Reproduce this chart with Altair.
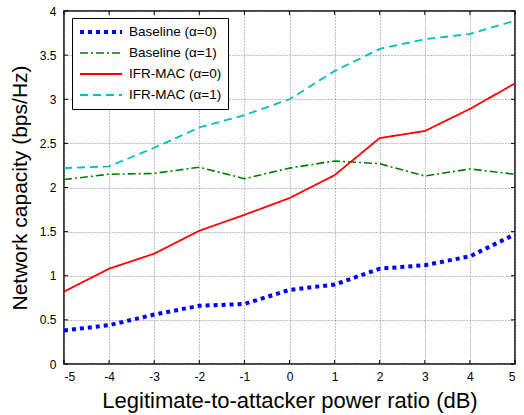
import altair as alt
import pandas as pd

x_vals = [-5, -4, -3, -2, -1, 0, 1, 2, 3, 4, 5]
baseline_a0 = [0.38, 0.44, 0.56, 0.66, 0.68, 0.84, 0.90, 1.08, 1.12, 1.22, 1.47]
baseline_a1 = [2.09, 2.15, 2.16, 2.23, 2.10, 2.22, 2.30, 2.27, 2.13, 2.21, 2.15]
ifr_a0 = [0.82, 1.08, 1.25, 1.51, 1.69, 1.88, 2.14, 2.56, 2.64, 2.89, 3.18]
ifr_a1 = [2.22, 2.24, 2.45, 2.68, 2.82, 3.00, 3.32, 3.57, 3.68, 3.74, 3.89]

series_names = ["Baseline (α=0)", "Baseline (α=1)", "IFR-MAC (α=0)", "IFR-MAC (α=1)"]
series_colors = ["#0000ff", "#008000", "#ff0000", "#00bfbf"]
series_dash = [[4, 4], [8, 3, 2, 3], [1, 0], [8, 5]]
series_width = [4, 1.6, 1.8, 1.8]

x_ticks = [-5, -4, -3, -2, -1, 0, 1, 2, 3, 4, 5]
y_ticks = [0, 0.5, 1, 1.5, 2, 2.5, 3, 3.5, 4]

rows = []
for name, vals in zip(series_names, [baseline_a0, baseline_a1, ifr_a0, ifr_a1]):
    for xv, yv in zip(x_vals, vals):
        rows.append({"x": xv, "y": yv, "series": name})
df = pd.DataFrame(rows)

FONT = "Liberation Sans"

xscale = alt.Scale(domain=[-5, 5], nice=False, zero=False)
yscale = alt.Scale(domain=[0, 4], nice=False)

lines = alt.Chart(df).mark_line(strokeCap="butt", clip=True).encode(
    x=alt.X("x:Q", scale=xscale,
            axis=alt.Axis(values=x_ticks, title="Legitimate-to-attacker power ratio (dB)",
                          labelExpr="datum.value + ''", labelPadding=7, titlePadding=8,
                          titleFontSize=22)),
    y=alt.Y("y:Q", scale=yscale,
            axis=alt.Axis(values=y_ticks, title="Network capacity (bps/Hz)",
                          labelExpr="datum.value + ''", labelPadding=8, titlePadding=9,
                          titleFontSize=21)),
    color=alt.Color("series:N", scale=alt.Scale(domain=series_names, range=series_colors), title=None),
    strokeDash=alt.StrokeDash("series:N", scale=alt.Scale(type="ordinal", domain=series_names, range=series_dash), title=None),
    strokeWidth=alt.StrokeWidth("series:N", scale=alt.Scale(type="ordinal", domain=series_names, range=series_width), title=None),
)

xt = pd.DataFrame({"x": x_ticks})
yt = pd.DataFrame({"y": y_ticks})
tick_bottom = alt.Chart(xt).mark_rule(color="black", strokeWidth=1).encode(
    x="x:Q", y=alt.datum(0), y2=alt.datum(0.045))
tick_top = alt.Chart(xt).mark_rule(color="black", strokeWidth=1).encode(
    x="x:Q", y=alt.datum(3.955), y2=alt.datum(4))
tick_left = alt.Chart(yt).mark_rule(color="black", strokeWidth=1).encode(
    y="y:Q", x=alt.datum(-5), x2=alt.datum(-4.91))
tick_right = alt.Chart(yt).mark_rule(color="black", strokeWidth=1).encode(
    y="y:Q", x=alt.datum(4.91), x2=alt.datum(5))

chart = alt.layer(lines, tick_bottom, tick_top, tick_left, tick_right).properties(
    width=451, height=353,
    autosize="none",
    padding={"left": 64, "top": 11, "right": 9, "bottom": 51},
    background="white",
).configure_view(
    stroke="black", strokeWidth=1.5
).configure_axis(
    labelFont=FONT, labelFontSize=12, labelColor="black",
    titleFont=FONT, titleFontWeight="normal", titleColor="black",
    tickSize=0, domain=False,
    grid=True, gridDash=[1, 2], gridColor="#808080", gridOpacity=1, gridWidth=1,
).configure_legend(
    orient="none", legendX=8, legendY=7,
    strokeColor="black", fillColor="white", padding=6,
    labelFont=FONT, labelFontSize=13.5, labelColor="black", labelFontWeight="normal",
    symbolType="stroke", symbolSize=1764, clipHeight=16, rowPadding=5, labelOffset=5,
)

chart.save("out.html", embed_options={"renderer": "svg", "actions": False})
